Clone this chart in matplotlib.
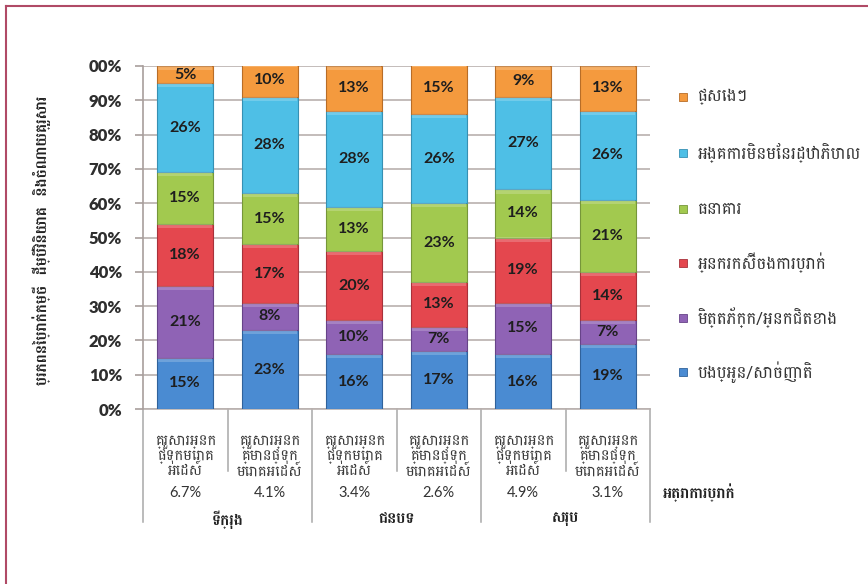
import matplotlib
matplotlib.use("Agg")
import matplotlib.pyplot as plt
import numpy as np
from matplotlib.lines import Line2D
from matplotlib.patches import Rectangle

plt.rcParams['font.family'] = ['Lato', 'Battambang', 'DejaVu Sans']

# ប្រភពប្រាក់កម្ចី (ពីក្រោមទៅលើ)
series_names = ['បងប្អូន/សាច់ញាតិ', 'មិត្តភ័ក្ក/អ្នកជិតខាង', 'អ្នករកស៊ីចងការប្រាក់',
                'ធនាគារ', 'អង្គការមិនមែនរដ្ឋាភិបាល', 'ផ្សេងៗ']
relatives = [15, 23, 16, 17, 16, 19]
friends = [21, 8, 10, 7, 15, 7]
moneylenders = [18, 17, 20, 13, 19, 14]
banks = [15, 15, 13, 23, 14, 21]
ngos = [26, 28, 28, 26, 27, 26]
others = [5, 10, 13, 15, 9, 13]
values = [relatives, friends, moneylenders, banks, ngos, others]
colors = ['#4a8bd2', '#8f63b5', '#e4474e', '#a2c94f', '#4ebfe6', '#f49a3e']
edges = ['#30629b', '#674388', '#a8313a', '#76963a', '#3690b3', '#b86d27']

hh_hiv = 'គ្រួសារអ្នក\nផ្ទុកមេរោគ\nអេដស៍'
hh_nohiv = 'គ្រួសារអ្នក\nគ្មានផ្ទុក\nមេរោគអេដស៍'
categories = [hh_hiv, hh_nohiv, hh_hiv, hh_nohiv, hh_hiv, hh_nohiv]
interest = ['6.7%', '4.1%', '3.4%', '2.6%', '4.9%', '3.1%']
groups = ['ទីក្រុង', 'ជនបទ', 'សរុប']
ytick_labels = ['0%', '10%', '20%', '30%', '40%', '50%', '60%', '70%', '80%', '90%', '00%']
ylabel = 'ប្រភពនៃប្រាក់កម្ចី  ដើម្បីវិនិយោគ  និងចំណាយគ្រួសារ'
rate_label = 'អត្រាការប្រាក់'

W, H = 868, 584
fig = plt.figure(figsize=(W / 100, H / 100), dpi=100)
ax = fig.add_axes([143 / W, 1 - 409 / H, 507 / W, 343 / H])

x = np.arange(len(categories))
bottom = np.zeros(len(categories))
for vals, c, ec in zip(values, colors, edges):
    vals = np.array(vals, dtype=float)
    ax.bar(x, vals, bottom=bottom, width=0.66, color=c, edgecolor=ec,
           linewidth=0.8, zorder=3)
    # faint sheen along the top of each block
    sheen = np.minimum(vals, 1.2)
    ax.bar(x, sheen, bottom=bottom + vals - sheen, width=0.64, color='white',
           alpha=0.2, linewidth=0, zorder=4)
    for xi, b, v in zip(x, bottom, vals):
        yc = b + v / 2
        if yc > 97:
            yc = b + (100 - b) / 2
        ax.text(xi, yc, f'{int(v)}%', ha='center', va='center', fontsize=11.5,
                fontweight='bold', color='#1e1e1e', zorder=5)
    bottom += vals

ax.set_xlim(-0.5, len(categories) - 0.5)
ax.set_ylim(0, 100)
ax.set_yticks(np.arange(0, 101, 10))
ax.set_yticklabels(ytick_labels, fontsize=12, fontweight='heavy', color='#2e2e2e')
ax.tick_params(axis='y', length=6, width=1.2, color='#a89e9c', pad=9)
ax.tick_params(axis='x', length=0, labelbottom=False)
ax.grid(axis='y', color='#b9b0ae', linewidth=1.2, zorder=0)
for side in ['top', 'right', 'bottom']:
    ax.spines[side].set_visible(False)
ax.spines['left'].set_color('#a89e9c')
ax.spines['left'].set_linewidth(1.2)

trans = ax.get_xaxis_transform()
# category labels and interest rates under each bar
for xi, lab, r in zip(x, categories, interest):
    ax.text(xi, -0.075, lab, transform=trans, ha='center', va='top', fontsize=10.5,
            color='#3a3a3a', family=['Battambang'], linespacing=1.0)
    ax.text(xi, -0.245, r, transform=trans, ha='center', va='center', fontsize=10.5,
            color='#333333')
for gi, g in enumerate(groups):
    ax.text(2 * gi + 0.5, -0.322, g, transform=trans, ha='center', va='center',
            fontsize=11, fontweight='bold', color='#222222', family=['Battambang'])
ax.text(1.025, -0.245, rate_label, transform=ax.transAxes, ha='left', va='center',
        fontsize=11, fontweight='bold', color='#222222', family=['Battambang'])

# separators below the axis
for xs in np.arange(-0.5, len(categories), 1.0):
    long_line = (xs + 0.5) % 2 == 0
    y_end = -0.33 if long_line else -0.18
    ax.add_line(Line2D([xs, xs], [0, y_end], transform=trans, color='#a8a8a8',
                       linewidth=1.1, clip_on=False))
ax.add_line(Line2D([-0.5, len(categories) - 0.5], [0, 0], transform=trans,
                   color='#b9b0ae', linewidth=1.2, clip_on=False))

fig.text(42 / W, 1 - 240 / H, ylabel, rotation=90, ha='center', va='center',
         fontsize=11, fontweight='bold', color='#222222', family=['Battambang'])

# legend, top entry first
leg_y = [97, 153, 209, 263, 318, 372]
for name, c, ec, yp in zip(series_names[::-1], colors[::-1], edges[::-1], leg_y):
    fig.patches.append(Rectangle((679 / W, 1 - (yp + 4) / H), 8 / W, 8 / H,
                                 transform=fig.transFigure, facecolor=c,
                                 edgecolor=ec, linewidth=0.6))
    fig.text(698 / W, 1 - yp / H, name, ha='left', va='center', fontsize=12,
             color='#333333', family=['Battambang'])

# page frame
fig.add_artist(Line2D([6 / W, 1], [1 - 6 / H, 1 - 6 / H], transform=fig.transFigure,
                      color='#b04a66', linewidth=1.5))
fig.add_artist(Line2D([6 / W, 6 / W], [0, 1 - 6 / H], transform=fig.transFigure,
                      color='#b04a66', linewidth=1.5))

fig.savefig('out.png', dpi=100)
